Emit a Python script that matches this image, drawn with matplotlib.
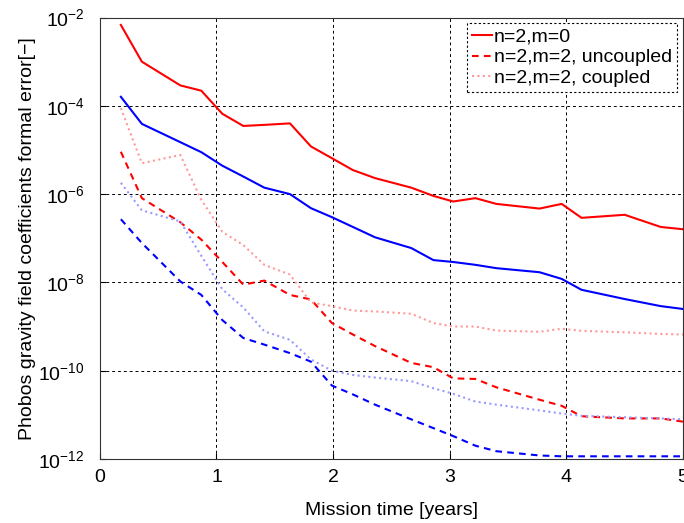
import math
import matplotlib
matplotlib.use("Agg")
import matplotlib.pyplot as plt
from matplotlib.ticker import FixedLocator, NullLocator

plt.rcParams['font.family'] = ['Liberation Sans', 'DejaVu Sans']
plt.rcParams['mathtext.fontset'] = 'custom'
plt.rcParams['mathtext.rm'] = 'Liberation Sans'
plt.rcParams['mathtext.it'] = 'Liberation Sans:italic'
plt.rcParams['mathtext.bf'] = 'Liberation Sans:bold'

# Mission time [years]
time_years = [0.18, 0.36, 0.69, 0.87, 1.05, 1.23, 1.41, 1.63, 1.81, 1.99, 2.17, 2.36,
              2.67, 2.86, 3.03, 3.22, 3.4, 3.77, 3.96, 4.13, 4.5, 4.81, 5.0]

red_m0 = [6.8e-3, 1.0e-3, 2.9e-4, 2.2e-4, 6.6e-5, 3.5e-5, 3.7e-5, 4.0e-5, 1.2e-5, 6.5e-6,
          3.5e-6, 2.3e-6, 1.4e-6, 9.1e-7, 6.8e-7, 8.1e-7, 6.0e-7, 4.7e-7, 6.0e-7, 2.9e-7,
          3.4e-7, 1.8e-7, 1.6e-7]
red_m2_uncoupled = [9.1e-6, 8.1e-7, 2.3e-7, 9.3e-8, 2.9e-8, 8.9e-9, 1.1e-8, 5.2e-9, 4.1e-9,
                    1.2e-9, 6.6e-10, 3.6e-10, 1.5e-10, 1.2e-10, 6.7e-11, 6.5e-11, 4.2e-11,
                    2.2e-11, 1.6e-11, 9.3e-12, 8.3e-12, 8.3e-12, 7.0e-12]
red_m2_coupled = [8.9e-5, 5.0e-6, 7.7e-6, 7.4e-7, 1.4e-7, 7.0e-8, 2.5e-8, 1.5e-8, 3.5e-9,
                  2.9e-9, 2.3e-9, 2.2e-9, 1.95e-9, 1.2e-9, 1.0e-9, 1.0e-9, 8.1e-10, 7.6e-10,
                  8.9e-10, 8.0e-10, 7.4e-10, 6.8e-10, 6.6e-10]
blue_m0 = [1.6e-4, 3.9e-5, 1.5e-5, 8.9e-6, 4.4e-6, 2.5e-6, 1.4e-6, 1.0e-6, 4.8e-7, 3.0e-7,
           1.8e-7, 1.05e-7, 6.0e-8, 3.2e-8, 2.9e-8, 2.5e-8, 2.1e-8, 1.7e-8, 1.2e-8, 6.8e-9,
           4.2e-9, 2.9e-9, 2.5e-9]
blue_m2_uncoupled = [2.7e-7, 7.8e-8, 1.05e-8, 5.2e-9, 1.4e-9, 5.5e-10, 3.9e-10, 2.5e-10,
                     1.6e-10, 4.6e-11, 2.9e-11, 1.7e-11, 7.9e-12, 5.0e-12, 3.3e-12, 2.0e-12,
                     1.5e-12, 1.2e-12, 1.15e-12, 1.15e-12, 1.15e-12, 1.15e-12, 1.15e-12]
blue_m2_coupled = [1.8e-6, 4.3e-7, 2.4e-7, 4.0e-8, 7.0e-9, 2.7e-9, 7.8e-10, 5.0e-10, 1.8e-10,
                   1.0e-10, 8.0e-11, 7.0e-11, 5.8e-11, 4.0e-11, 3.0e-11, 2.0e-11, 1.7e-11,
                   1.26e-11, 1.07e-11, 9.5e-12, 8.8e-12, 8.3e-12, 7.9e-12]

legend_labels = ["n=2,m=0", "n=2,m=2, uncoupled", "n=2,m=2, coupled"]
x_ticks = [0, 1, 2, 3, 4, 5]
y_ticks = [1e-12, 1e-10, 1e-8, 1e-6, 1e-4, 1e-2]

fig = plt.figure(figsize=(6.84, 5.23), dpi=100)
ax = fig.add_axes([0.146, 0.1224, 0.8525, 0.8441])

lw = 1.5
l1, = ax.plot(time_years, red_m0, color='#ff0000', lw=lw, ls='-')
l2, = ax.plot(time_years, red_m2_uncoupled, color='#ff0000', lw=lw, ls=(0, (3.2, 2.5)))
l3, = ax.plot(time_years, red_m2_coupled, color='#ff9a9a', lw=lw, ls=(0, (1, 1.6)))
ax.plot(time_years, blue_m0, color='#0000ff', lw=lw, ls='-')
ax.plot(time_years, blue_m2_uncoupled, color='#0000ff', lw=lw, ls=(0, (3.2, 2.5)))
ax.plot(time_years, blue_m2_coupled, color='#9a9aff', lw=lw, ls=(0, (1, 1.6)))

ax.set_yscale('log')
ax.set_xlim(0, 5)
ax.set_ylim(1e-12, 1e-2)
ax.xaxis.set_major_locator(FixedLocator(x_ticks))
ax.yaxis.set_major_locator(FixedLocator(y_ticks))
ax.yaxis.set_minor_locator(NullLocator())
ax.set_yticklabels([r'$10^{%d}$' % int(round(math.log10(v))) for v in y_ticks])
ax.tick_params(axis='both', which='major', direction='in', length=4, labelsize=14)
ax.tick_params(axis='x', pad=7)
ax.tick_params(axis='y', pad=11)
ax.grid(True, which='major', color='black', ls=(0, (3, 3)), lw=0.7)
for s in ax.spines.values():
    s.set_linewidth(0.8)
    s.set_color('#333333')

ax.set_xlabel('Mission time [years]', fontsize=14, labelpad=12)
ax.set_ylabel('Phobos gravity field coefficients formal error[\u2212]', fontsize=14, labelpad=1.5)

leg = ax.legend([l1, l2, l3], legend_labels, loc='upper right', fontsize=14,
                handlelength=1.05, handletextpad=0.1, borderaxespad=0.3, labelspacing=0.15,
                fancybox=False, framealpha=1, borderpad=0.25)
leg.get_frame().set_edgecolor('black')
leg.get_frame().set_linestyle((0, (2, 2)))
leg.get_frame().set_linewidth(0.8)

fig.savefig('out.png', dpi=100)
